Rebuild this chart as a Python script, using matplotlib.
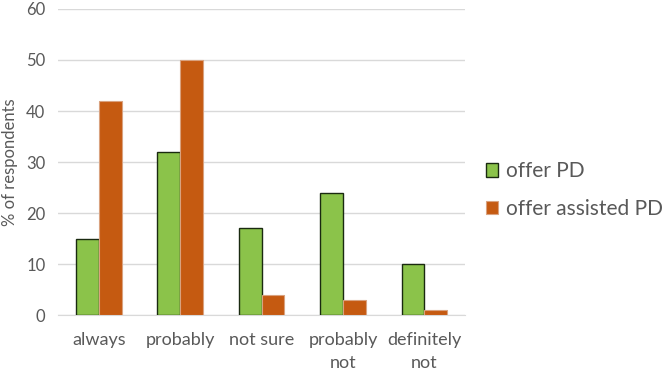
import matplotlib.pyplot as plt
import numpy as np

categories = ['always', 'probably', 'not sure', 'probably\nnot', 'definitely\nnot']
offer_pd = [15, 32, 17, 24, 10]
offer_assisted_pd = [42, 50, 4, 3, 1]

plt.rcParams['font.family'] = ['Lato', 'DejaVu Sans']
txt = '#595959'

fig = plt.figure(figsize=(6.63, 3.73), dpi=100)
ax = fig.add_axes([0.0875, 0.155, 0.614, 0.821])

x = np.arange(len(categories))
w = 0.28
ax.bar(x - w / 2, offer_pd, w, color='#8BC34A', edgecolor='#1a2a10', linewidth=1.0,
       label='offer PD', zorder=3)
ax.bar(x + w / 2, offer_assisted_pd, w, color='#C55A11', edgecolor='#d9a27f', linewidth=0.8,
       label='offer assisted PD', zorder=3)

ax.set_xlim(-0.5, len(categories) - 0.5)
ax.set_ylim(0, 60)
ax.set_yticks(range(0, 61, 10))
ax.set_xticks(x)
ax.set_xticklabels(categories, fontsize=13, color=txt, linespacing=1.55)
ax.tick_params(axis='y', labelsize=12, colors=txt, length=0, pad=9)
ax.tick_params(axis='x', length=0, pad=12)
ax.grid(axis='y', color='#d9d9d9', linewidth=1, zorder=0)
for s in ['top', 'right', 'left']:
    ax.spines[s].set_visible(False)
ax.spines['bottom'].set_color('#d9d9d9')
ax.set_ylabel('% of respondents', fontsize=12, color=txt, labelpad=6)

fig.legend(loc='center left', bbox_to_anchor=(0.733, 0.49), frameon=False,
           fontsize=15, labelcolor=txt, handlelength=0.6, handleheight=0.6,
           handletextpad=0.35, labelspacing=0.85, borderaxespad=0, borderpad=0)

fig.savefig('out.png', dpi=100)
